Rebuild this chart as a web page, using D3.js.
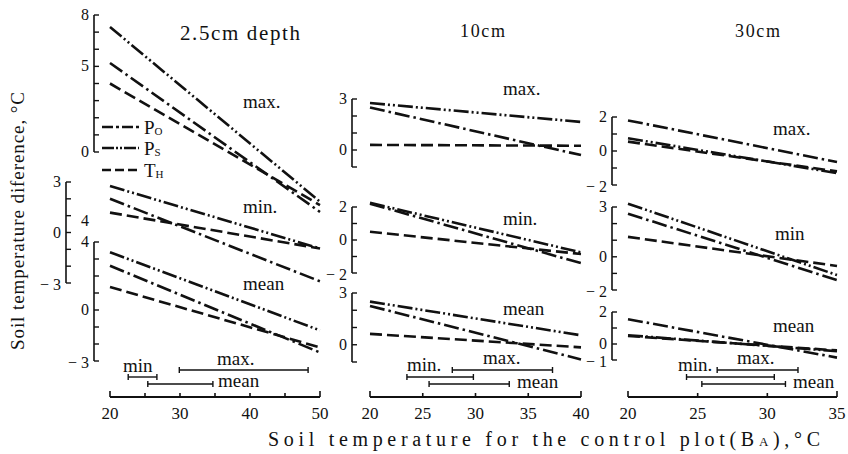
<!DOCTYPE html>
<html lang="en">
<head>
<meta charset="UTF-8">
<title>Soil temperature difference</title>
<script src="https://d3js.org/d3.v7.min.js"></script>
<style>
  body { margin: 0; background: #fff; }
  text { font-family: "Liberation Serif", "DejaVu Serif", serif; fill: #111; }
</style>
</head>
<body>
<svg id="chart" width="848" height="454"></svg>
<script>
  // ---- data ----
  const depths = ["2.5cm depth", "10cm", "30cm"];
  const stats = [["max.", "min.", "mean"], ["max.", "min.", "mean"], ["max.", "min", "mean"]];
  const seriesNames = ["Po", "Ps", "TH"];

  const xDomains = [[20, 50], [20, 40], [20, 35]];
  const xTicks = [[20, 25, 30, 35, 40, 45, 50], [20, 25, 30, 35, 40], [20, 25, 30, 35]];
  const xTickLabels = [[20, 30, 40, 50], [20, 25, 30, 35, 40], [20, 25, 30, 35]];

  // y domain of each panel [depth][stat]
  const yDomains = [
    [[0, 8], [-3, 3], [-3, 4]],
    [[-1, 3], [-2, 2], [-1, 3]],
    [[-2, 2], [-2, 3], [-1, 2]]
  ];
  const yTickLabels = [
    [[0, 5, 8], [-3, 0, 3], [-3, 0, 4]],
    [[0, 3], [-2, 0, 2], [0, 3]],
    [[-2, 0, 2], [-2, 0, 3], [-1, 0, 2]]
  ];

  // difference at the two ends of the x range [start, end], per depth and stat
  const poValues = [
    [[5.2, -3.5], [2.0, -2.9], [2.6, -2.5]],
    [[2.5, -0.3], [2.2, -1.4], [2.25, -0.85]],
    [[1.8, -0.65], [2.6, -1.4], [1.55, -0.85]]
  ];
  const psValues = [
    [[7.3, -2.9], [2.76, -0.95], [3.4, -1.2]],
    [[2.76, 1.65], [2.25, -0.75], [2.5, 0.55]],
    [[0.75, -1.3], [3.2, -1.1], [0.55, -0.45]]
  ];
  const thValues = [
    [[4.0, -3.1], [1.18, -0.95], [1.35, -2.2]],
    [[0.3, 0.25], [0.5, -0.85], [0.63, -0.15]],
    [[0.55, -1.2], [1.2, -0.55], [0.5, -0.4]]
  ];

  // ranges of control plot temperature
  const rangeMax = [[29.9, 48.3], [27.8, 37.3], [26.4, 32.2]];
  const rangeMin = [[22.6, 26.7], [23.5, 29.8], [24.2, 30.5]];
  const rangeMean = [[25.4, 34.7], [25.6, 33.2], [25.3, 31.3]];

  // ---- layout ----
  const cols = [
    { x: [110, 320], axisX: [94, 66, 94], y: [[152, 15], [283, 182], [361, 242]],
      title: { x: 180, y: 40, size: 21, len: 120 },
      stat: [[243, 108], [243, 213], [243, 290]],
      rl: { min: [123, 372], max: [217, 365], mean: [218, 387] } },
    { x: [370, 581], axisX: [352, 352, 352], y: [[167, 99], [273, 207], [362, 293]],
      title: { x: 460, y: 37, size: 18, len: 45 },
      stat: [[503, 95], [503, 225], [503, 315]],
      rl: { min: [407, 371], max: [483, 364], mean: [517, 388] } },
    { x: [628, 837], axisX: [612, 612, 612], y: [[185, 117], [290, 207], [360, 312]],
      title: { x: 735, y: 37, size: 18, len: 45 },
      stat: [[773, 135], [775, 240], [773, 332]],
      rl: { min: [678, 371], max: [737, 364], mean: [793, 388] } }
  ];
  const xAxisY = 397;
  const barY = { max: 370, min: 377, mean: 384 };
  const dashes = { Po: "15,4,2.5,4", Ps: "15,3,2,3,2,3", TH: "12,5" };
  const valuesBySeries = { Po: poValues, Ps: psValues, TH: thValues };

  const svg = d3.select("#chart");
  const fmt = v => v < 0 ? "\u2212 " + Math.abs(v) : String(v);

  cols.forEach((c, i) => {
    const x = d3.scaleLinear().domain(xDomains[i]).range(c.x);

    // title
    svg.append("text")
      .attr("x", c.title.x).attr("y", c.title.y)
      .attr("font-size", c.title.size)
      .attr("textLength", c.title.len).attr("lengthAdjust", "spacing")
      .text(depths[i]);

    stats[i].forEach((s, j) => {
      const y = d3.scaleLinear().domain(yDomains[i][j]).range(c.y[j]);
      const ax = c.axisX[j];
      const g = svg.append("g");

      // vertical axis with inward ticks
      g.append("line")
        .attr("x1", ax).attr("x2", ax)
        .attr("y1", y(yDomains[i][j][0])).attr("y2", y(yDomains[i][j][1]))
        .attr("stroke", "#111").attr("stroke-width", 1.6);
      g.selectAll(".tk").data(d3.range(yDomains[i][j][0], yDomains[i][j][1] + 1))
        .enter().append("line")
        .attr("x1", ax).attr("x2", ax + 5)
        .attr("y1", d => y(d)).attr("y2", d => y(d))
        .attr("stroke", "#111").attr("stroke-width", 1.4);
      g.selectAll(".lb").data(yTickLabels[i][j])
        .enter().append("text")
        .attr("x", ax - 5).attr("y", d => y(d) + (d < 0 ? 7 : 5))
        .attr("text-anchor", "end").attr("font-size", 16)
        .text(fmt);

      // regression lines
      seriesNames.forEach(sn => {
        const v = valuesBySeries[sn][i][j];
        g.append("line")
          .attr("x1", x(xDomains[i][0])).attr("y1", y(v[0]))
          .attr("x2", x(xDomains[i][1])).attr("y2", y(v[1]))
          .attr("stroke", "#111").attr("stroke-width", 2.6)
          .attr("stroke-dasharray", dashes[sn]);
      });

      svg.append("text")
        .attr("x", c.stat[j][0]).attr("y", c.stat[j][1])
        .attr("font-size", 19)
        .text(s);
    });

    // range bars
    const ranges = { max: rangeMax[i], min: rangeMin[i], mean: rangeMean[i] };
    Object.keys(ranges).forEach(k => {
      const r = ranges[k];
      const gy = barY[k];
      svg.append("line")
        .attr("x1", x(r[0])).attr("x2", x(r[1]))
        .attr("y1", gy).attr("y2", gy)
        .attr("stroke", "#111").attr("stroke-width", 1.4);
      r.forEach(v => svg.append("line")
        .attr("x1", x(v)).attr("x2", x(v))
        .attr("y1", gy - 3).attr("y2", gy + 3)
        .attr("stroke", "#111").attr("stroke-width", 1.4));
      svg.append("text")
        .attr("x", c.rl[k][0]).attr("y", c.rl[k][1])
        .attr("font-size", 19)
        .text(k === "mean" ? "mean" : (k === "max" ? "max." : (i === 0 ? "min" : "min.")));
    });

    // x axis
    svg.append("line")
      .attr("x1", x(xDomains[i][0])).attr("x2", x(xDomains[i][1]))
      .attr("y1", xAxisY).attr("y2", xAxisY)
      .attr("stroke", "#111").attr("stroke-width", 1.8);
    svg.selectAll(null).data(xTicks[i]).enter().append("line")
      .attr("x1", d => x(d)).attr("x2", d => x(d))
      .attr("y1", xAxisY).attr("y2", d => (d === xDomains[i][0] || d === xDomains[i][1]) ? xAxisY - 6 : xAxisY - 4)
      .attr("stroke", "#111").attr("stroke-width", 1.6);
    svg.selectAll(null).data(xTickLabels[i]).enter().append("text")
      .attr("x", d => x(d)).attr("y", 419)
      .attr("text-anchor", "middle").attr("font-size", 17)
      .text(d => d);
  });

  // stray duplicated tick label of the 2.5cm mean axis
  svg.append("text").attr("x", 89).attr("y", 226)
    .attr("text-anchor", "end").attr("font-size", 16).text("4");

  // legend
  const legend = [
    { name: "Po", main: "P", sub: "O", y: 127 },
    { name: "Ps", main: "P", sub: "S", y: 148 },
    { name: "TH", main: "T", sub: "H", y: 170 }
  ];
  legend.forEach(l => {
    svg.append("line")
      .attr("x1", 102).attr("x2", 139).attr("y1", l.y).attr("y2", l.y)
      .attr("stroke", "#111").attr("stroke-width", 2.6)
      .attr("stroke-dasharray", l.name === "TH" ? "9,4" : (l.name === "Po" ? "11,3,3,3" : "12,2,2,2,2,2"));
    const t = svg.append("text").attr("x", 144).attr("y", l.y + 7).attr("font-size", 19);
    t.append("tspan").text(l.main);
    t.append("tspan").attr("font-size", 11).attr("dy", 1).text(l.sub);
  });

  // axis titles
  const xl = svg.append("text")
    .attr("x", 268).attr("y", 446).attr("font-size", 20)
    .attr("textLength", 552).attr("lengthAdjust", "spacing");
  xl.append("tspan").text("Soil temperature for the control plot(B");
  xl.append("tspan").attr("font-size", 13).text("A");
  xl.append("tspan").text("),\u00b0C");

  svg.append("text")
    .attr("transform", "translate(24,350) rotate(-90)")
    .attr("font-size", 19)
    .attr("textLength", 258).attr("lengthAdjust", "spacing")
    .text("Soil temperature diference, \u00b0C");
</script>
</body>
</html>
